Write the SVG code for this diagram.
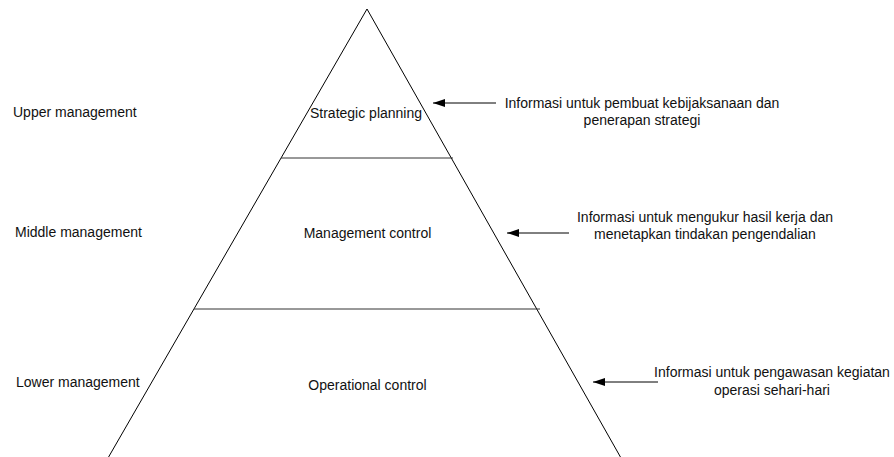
<svg xmlns="http://www.w3.org/2000/svg" width="894" height="457" viewBox="0 0 894 457">
<style>
text { font-family: "Liberation Sans", Arial, sans-serif; font-size: 14px; fill: #111; }
.c { text-anchor: middle; }
.edge { stroke: #000; stroke-width: 1; fill: none; }
.div { stroke: #333; stroke-width: 1; fill: none; }
.arrow { stroke: #000; stroke-width: 1; fill: none; marker-end: url(#ah); }
</style>
<defs>
<marker id="ah" viewBox="0 0 12 8" refX="12" refY="4" markerWidth="12" markerHeight="8" markerUnits="userSpaceOnUse" orient="auto">
<path d="M0,0 L12,4 L0,8 Z" fill="#000"/>
</marker>
</defs>
<rect width="894" height="457" fill="#fff"/>
<g id="pyramid">
<polyline class="edge" points="108,458 367,9 621,458"/>
</g>
<g id="tier-strategic">
<line class="div" x1="281" y1="158" x2="453" y2="158"/>
<text class="c" x="366" y="118">Strategic planning</text>
</g>
<g id="tier-management">
<line class="div" x1="194" y1="309" x2="540" y2="309"/>
<text class="c" x="367.5" y="238">Management control</text>
</g>
<g id="tier-operational">
<text class="c" x="367.5" y="390">Operational control</text>
</g>
<g id="level-upper">
<text x="13" y="117">Upper management</text>
</g>
<g id="level-middle">
<text x="15" y="237">Middle management</text>
</g>
<g id="level-lower">
<text x="16" y="387">Lower management</text>
</g>
<g id="info-strategic">
<text class="c" x="642" y="108">Informasi untuk pembuat kebijaksanaan dan</text>
<text class="c" x="642" y="125">penerapan strategi</text>
</g>
<g id="info-management">
<text class="c" x="705" y="222">Informasi untuk mengukur hasil kerja dan</text>
<text class="c" x="705" y="239">menetapkan tindakan pengendalian</text>
</g>
<g id="info-operational">
<text class="c" x="772" y="377">Informasi untuk pengawasan kegiatan</text>
<text class="c" x="772" y="395">operasi sehari-hari</text>
</g>
<g id="connectors">
<line class="arrow" x1="496" y1="103" x2="433" y2="103"/>
<line class="arrow" x1="569" y1="233" x2="507" y2="233"/>
<line class="arrow" x1="658" y1="382" x2="593" y2="382"/>
</g>
</svg>
